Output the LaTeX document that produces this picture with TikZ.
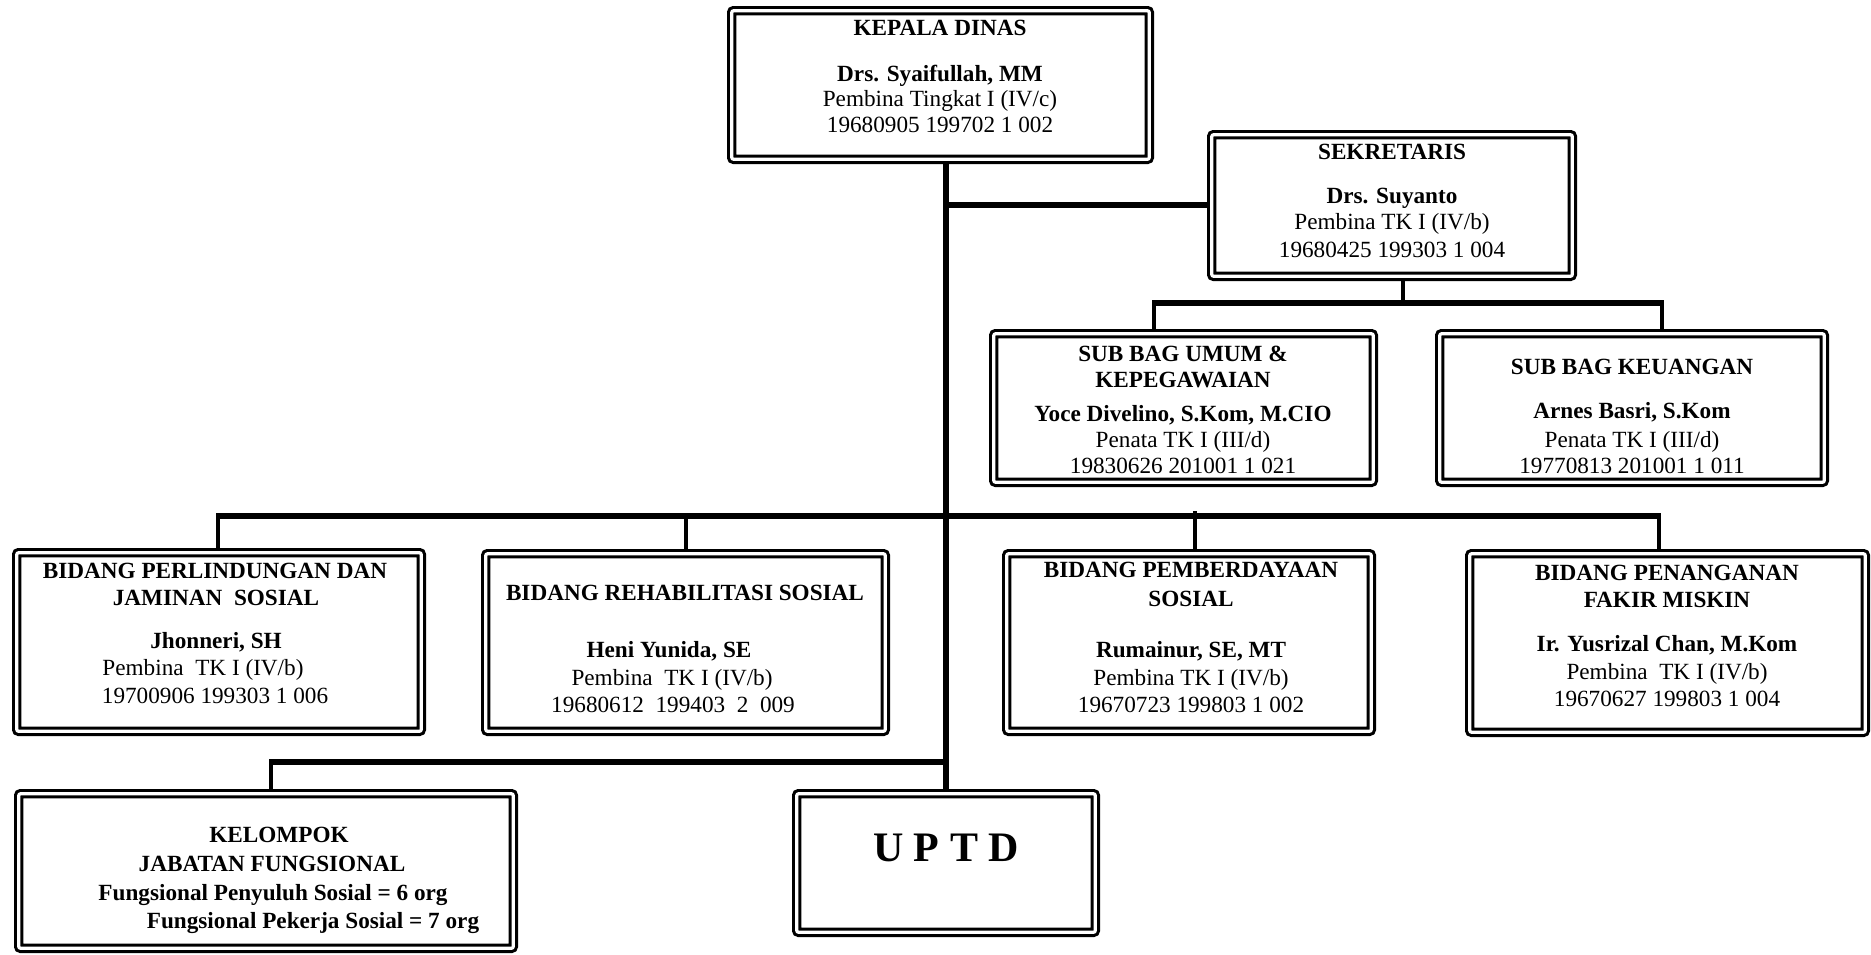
\documentclass[tikz,border=0pt]{standalone}
\usepackage{fontspec}
\setmainfont{Liberation Serif}
\usetikzlibrary{backgrounds}
\tikzset{
  box/.style={draw=black, fill=white, line width=1.55pt, double=white, double distance=1.6pt, rounded corners=1pt, inner sep=0pt, outer sep=0pt},
  t/.style={inner sep=0pt, text height=7.7pt, text depth=0pt, font=\fontsize{11.6}{13}\selectfont},
  tb/.style={t, font=\fontsize{11.6}{13}\selectfont\bfseries},
  trunk/.style={line width=3.4pt},
  hline/.style={line width=2.6pt},
  vline/.style={line width=2pt},
}
\newcommand\bx[5]{\node[box, minimum width={(#4-#2)*0.5pt-4.7pt}, minimum height={(#5-#3)*0.5pt-4.7pt}] (#1) at ({(#2+#4)/2},{(#3+#5)/2}) {};}
\newcommand\tl[4]{\node[t] (#1) at (#2,#3) {#4};}
\newcommand\tlb[4]{\node[tb] (#1) at (#2,#3) {#4};}
\begin{document}
\begin{tikzpicture}[x=0.5pt,y=-0.5pt]
\useasboundingbox (0,0) rectangle (1871,954);
% boxes
\bx{kd}{727}{6}{1154}{164}
\bx{sek}{1207}{130}{1577}{281}
\bx{subA}{989}{329}{1378}{487}
\bx{subB}{1435}{329}{1829}{487}
\bx{bA}{12}{548}{426}{736}
\bx{bB}{481}{549}{890}{736}
\bx{bC}{1002}{549}{1376}{736}
\bx{bD}{1465}{549}{1870}{737}
\bx{kel}{14}{789}{518}{953}
\bx{uptd}{792}{789}{1100}{937}
% connectors
\coordinate (tk) at (946,0);
\coordinate (j1) at (946,205);
\coordinate (s1) at (1403,303);
\coordinate (s0) at (1154,303);
\coordinate (s2) at (1662,303);
\coordinate (m1) at (218,516);
\coordinate (m2) at (686,516);
\coordinate (m3) at (1195,516);
\coordinate (m3t) at (1195,511);
\coordinate (m4) at (1659,516);
\coordinate (k1) at (271,762);
\begin{scope}[on background layer]
\fill[white] (0,0) rectangle (1871,954);
\draw[trunk] (kd.south -| tk) -- (uptd.north -| tk);
\draw[trunk] (j1) -- (j1 -| sek.west);
\draw[vline, line width=2.4pt] (sek.south -| s1) -- (s1);
\draw[hline] ([xshift=-1pt]s0) -- ([xshift=1pt]s2);
\draw[vline] (s0) -- (s0 |- subA.north);
\draw[vline] (s2) -- (s2 |- subB.north);
\draw[hline] ([xshift=-1pt]m1) -- ([xshift=1pt]m4);
\draw[vline] (m1) -- (m1 |- bA.north);
\draw[vline] (m2) -- (m2 |- bB.north);
\draw[vline] (m3t) -- (m3 |- bC.north);
\draw[vline] (m4) -- (m4 |- bD.north);
\draw[trunk, line width=3pt] ([xshift=-1pt]k1) -- (k1 -| tk);
\draw[vline] (k1) -- (k1 |- kel.north);
\end{scope}
% texts
\tlb{kdA}{940}{28}{KEPALA DINAS}
\tlb{kdB}{940}{74}{Drs. Syaifullah, MM}
\tl{kdC}{940}{99}{Pembina Tingkat I (IV/c)}
\tl{kdD}{940}{125}{19680905 199702 1 002}
\tlb{sekA}{1392}{152}{SEKRETARIS}
\tlb{sekB}{1392}{196}{Drs. Suyanto}
\tl{sekC}{1392}{222}{Pembina TK I (IV/b)}
\tl{sekD}{1392}{250}{19680425 199303 1 004}
\tlb{subAa}{1183}{354}{SUB BAG UMUM \&}
\tlb{subAb}{1183}{380}{KEPEGAWAIAN}
\tlb{subAc}{1183}{414}{Yoce Divelino, S.Kom, M.CIO}
\tl{subAd}{1183}{440}{Penata TK I (III/d)}
\tl{subAe}{1183}{466}{19830626 201001 1 021}
\tlb{subBa}{1632}{367}{SUB BAG KEUANGAN}
\tlb{subBb}{1632}{411}{Arnes Basri, S.Kom}
\tl{subBc}{1632}{440}{Penata TK I (III/d)}
\tl{subBd}{1632}{466}{19770813 201001 1 011}
\tlb{bAa}{215}{571}{BIDANG PERLINDUNGAN DAN}
\tlb{bAb}{216}{598}{JAMINAN\ \ SOSIAL}
\tlb{bAc}{216}{641}{Jhonneri, SH}
\tl{bAd}{203}{668}{Pembina\ \ TK I (IV/b)}
\tl{bAe}{215}{696}{19700906 199303 1 006}
\tlb{bBa}{685}{593}{BIDANG REHABILITASI SOSIAL}
\tlb{bBb}{669}{650}{Heni Yunida, SE}
\tl{bBc}{672}{678}{Pembina\ \ TK I (IV/b)}
\tl{bBd}{673}{705}{19680612\ \ 199403\ \ 2\ \ 009}
\tlb{bCa}{1191}{570}{BIDANG PEMBERDAYAAN}
\tlb{bCb}{1191}{599}{SOSIAL}
\tlb{bCc}{1191}{650}{Rumainur, SE, MT}
\tl{bCd}{1191}{678}{Pembina TK I (IV/b)}
\tl{bCe}{1191}{705}{19670723 199803 1 002}
\tlb{bDa}{1667}{573}{BIDANG PENANGANAN}
\tlb{bDb}{1667}{600}{FAKIR MISKIN}
\tlb{bDc}{1667}{644}{Ir. Yusrizal Chan, M.Kom}
\tl{bDd}{1667}{672}{Pembina\ \ TK I (IV/b)}
\tl{bDe}{1667}{699}{19670627 199803 1 004}
\tlb{kelA}{279}{835}{KELOMPOK}
\tlb{kelB}{272}{864}{JABATAN FUNGSIONAL}
\tlb{kelC}{273}{893}{Fungsional Penyuluh Sosial = 6 org}
\tlb{kelD}{313}{921}{Fungsional Pekerja Sosial = 7 org}
\node[inner sep=0pt, text height=13.9pt, text depth=0pt, font=\fontsize{21}{24}\selectfont\bfseries] (uptdT) at (946,848) {U P T D};
\end{tikzpicture}
\end{document}
